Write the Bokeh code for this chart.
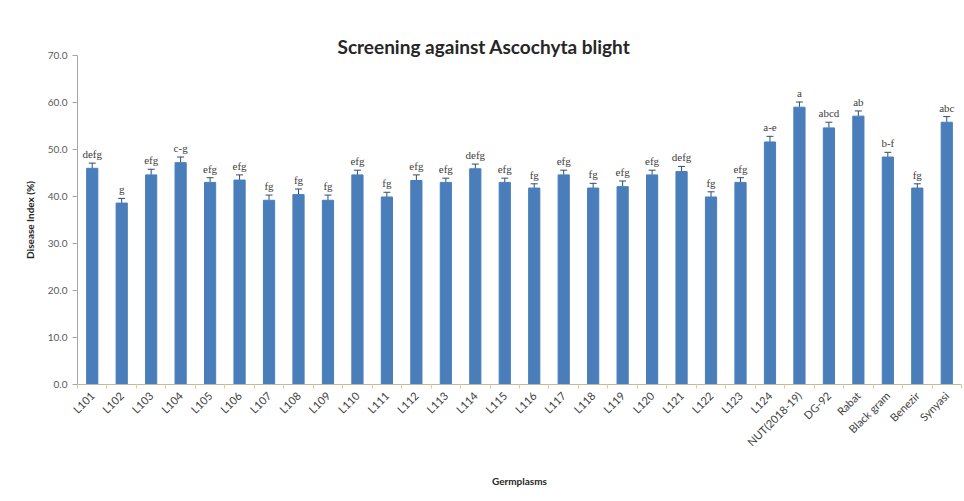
import math
from bokeh.plotting import figure
from bokeh.models import (ColumnDataSource, Range1d, FixedTicker, Whisker, TeeHead,
                          LabelSet)
from bokeh.embed import file_html
from bokeh.resources import INLINE

germplasms = ["L101", "L102", "L103", "L104", "L105", "L106", "L107", "L108", "L109", "L110",
              "L111", "L112", "L113", "L114", "L115", "L116", "L117", "L118", "L119", "L120",
              "L121", "L122", "L123", "L124", "NUT(2018-19)", "DG-92", "Rabat", "Black gram",
              "Benezir", "Synyasi"]
disease_index = [46.0, 38.6, 44.6, 47.2, 43.0, 43.5, 39.2, 40.4, 39.2, 44.6,
                 39.9, 43.4, 43.0, 45.9, 43.0, 41.8, 44.6, 41.8, 42.1, 44.6,
                 45.3, 39.9, 43.0, 51.6, 59.0, 54.6, 57.1, 48.4, 41.8, 55.8]
std_error = [1.1, 1.0, 1.2, 1.2, 1.0, 1.1, 1.1, 1.2, 1.1, 1.0,
             1.0, 1.2, 0.9, 1.0, 0.9, 0.9, 1.0, 1.0, 1.2, 1.0,
             1.1, 1.1, 1.0, 1.2, 1.1, 1.2, 1.1, 1.0, 0.9, 1.2]
letters = ["defg", "g", "efg", "c-g", "efg", "efg", "fg", "fg", "fg", "efg",
           "fg", "efg", "efg", "defg", "efg", "fg", "efg", "fg", "efg", "efg",
           "defg", "fg", "efg", "a-e", "a", "abcd", "ab", "b-f", "fg", "abc"]
y_ticks = [0, 10, 20, 30, 40, 50, 60, 70]

FONT = "Lato"
n = len(germplasms)
xs = [i + 0.5 for i in range(n)]
tops = [v + e for v, e in zip(disease_index, std_error)]
src = ColumnDataSource(dict(x=xs, top=disease_index, upper=tops, lab=letters))

p = figure(width=964, height=501, output_backend="svg", toolbar_location=None,
           x_range=Range1d(0, n), y_range=Range1d(0, 70),
           min_border_left=77, min_border_right=3, min_border_top=55, min_border_bottom=117)
p.outline_line_color = None
p.xgrid.visible = False
p.ygrid.visible = False
p.background_fill_color = "white"
p.border_fill_color = "white"

p.vbar(x="x", top="top", bottom=0, width=0.38, source=src, fill_color="#4A7EBB",
       line_color="#4A7EBB")
p.add_layout(Whisker(base="x", upper="upper", lower="top", source=src, dimension="height",
                     line_color="#2C4D75", line_width=1,
                     upper_head=TeeHead(size=7, line_color="#2C4D75", line_width=1),
                     lower_head=None))
p.add_layout(LabelSet(x="x", y="upper", text="lab", source=src, text_align="center",
                      text_baseline="bottom", y_offset=3, text_font=FONT,
                      text_font_size="11px", text_color="#404040"))

# title
p.title.text = "Screening against Ascochyta blight"
p.title.text_font = FONT
p.title.text_font_size = "19px"
p.title.text_font_style = "bold"
p.title.text_color = "#262626"
p.title.align = "left"
p.title.offset = 260
p.title.standoff = -4

# y axis
ya = p.yaxis[0]
ya.ticker = FixedTicker(ticks=y_ticks)
ya.major_label_overrides = {t: f"{t:.1f}" for t in y_ticks}
ya.major_label_text_font = FONT
ya.major_label_text_font_size = "10px"
ya.major_label_text_color = "#595959"
ya.major_tick_out = 5
ya.major_tick_in = 0
ya.minor_tick_out = 0
ya.minor_tick_in = 0
ya.axis_line_color = "#A6A6A6"
ya.major_tick_line_color = "#A6A6A6"
ya.axis_label = "Disease Index (%)"
ya.axis_label_text_font = FONT
ya.axis_label_text_font_size = "10px"
ya.axis_label_text_font_style = "bold"
ya.axis_label_text_color = "#262626"
ya.axis_label_standoff = 9

# x axis
xa = p.xaxis[0]
xa.ticker = FixedTicker(ticks=xs, minor_ticks=list(range(n + 1)))
xa.major_label_overrides = {x: g for x, g in zip(xs, germplasms)}
xa.major_label_orientation = math.pi / 4
xa.major_label_text_font = FONT
xa.major_label_text_font_size = "11px"
xa.major_label_text_color = "#404040"
xa.major_tick_out = 0
xa.major_tick_in = 0
xa.minor_tick_out = 4
xa.minor_tick_in = 0
xa.minor_tick_line_color = "#E3C9A0"
xa.axis_line_color = "#C8B89A"
xa.axis_label = "Germplasms"
xa.axis_label_text_font = FONT
xa.axis_label_text_font_size = "10px"
xa.axis_label_text_font_style = "bold"
xa.axis_label_text_color = "#262626"
xa.axis_label_standoff = 19

open("out.html", "w").write(file_html(p, INLINE))
